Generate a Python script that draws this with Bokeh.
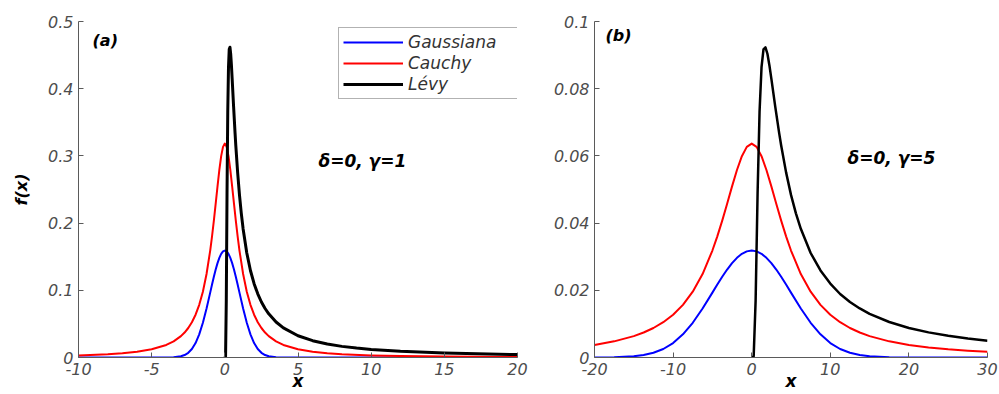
from bokeh.plotting import figure
from bokeh.layouts import row
from bokeh.models import (Label, Legend, LegendItem, CustomJSTickFormatter,
                          FixedTicker, Range1d)
from bokeh.embed import file_html
from bokeh.resources import INLINE

# ---------------- panel (a): delta = 0, gamma = 1 ----------------
xa = [-10, -8, -7, -6, -5, -4, -3.5, -3, -2.75, -2.5, -2.25, -2, -1.75, -1.5, -1.25,
      -1, -0.875, -0.75, -0.625, -0.5, -0.375, -0.25, -0.125,
      0,
      0.125, 0.25, 0.375, 0.5, 0.625, 0.75, 0.875, 1,
      1.25, 1.5, 1.75, 2, 2.25, 2.5, 2.75, 3,
      3.5, 4, 5, 6, 7, 8, 10, 12, 15, 20]
gauss_a = [0, 0, 0, 0, 0, 0.00005, 0.00035, 0.00177, 0.00363, 0.00699, 0.01266,
           0.02154, 0.03442, 0.05167, 0.07286, 0.09653, 0.10853, 0.12013, 0.13091,
           0.14045, 0.14834, 0.15425, 0.15791,
           0.15915,
           0.15791, 0.15425, 0.14834, 0.14045, 0.13091, 0.12013, 0.10853, 0.09653,
           0.07286, 0.05167, 0.03442, 0.02154, 0.01266, 0.00699, 0.00363, 0.00177,
           0.00035, 0.00005, 0, 0, 0, 0, 0, 0, 0, 0]
cauchy_a = [0.00315, 0.00490, 0.00637, 0.00860, 0.01224, 0.01872, 0.02402, 0.03183,
            0.03718, 0.04390, 0.05251, 0.06366, 0.07835, 0.09794, 0.12422, 0.15915,
            0.18028, 0.20372, 0.22890, 0.25465, 0.27907, 0.29959, 0.31341,
            0.31831,
            0.31341, 0.29959, 0.27907, 0.25465, 0.22890, 0.20372, 0.18028, 0.15915,
            0.12422, 0.09794, 0.07835, 0.06366, 0.05251, 0.04390, 0.03718, 0.03183,
            0.02402, 0.01872, 0.01224, 0.00860, 0.00637, 0.00490, 0.00315, 0.00220,
            0.00141, 0.00079]
levy_xa = [0, 0.05, 0.1, 0.15, 0.2, 0.25, 0.3, 0.35, 0.4, 0.45, 0.5, 0.6, 0.7, 0.75,
           0.875, 1, 1.125, 1.25, 1.5, 1.75, 2, 2.25, 2.5, 2.75, 3, 3.5, 4, 5, 6, 7,
           8, 9, 10, 12, 15, 20]
levy_a = [0, 0.0016, 0.0850, 0.2450, 0.3661, 0.4319, 0.4586, 0.4617, 0.4518, 0.4351,
          0.4151, 0.3730, 0.3335, 0.3153, 0.2753, 0.2420, 0.2144, 0.1913, 0.1556,
          0.1295, 0.1098, 0.0947, 0.0826, 0.0729, 0.0650, 0.0528, 0.0440, 0.0323,
          0.0250, 0.0201, 0.01656, 0.0140, 0.0120, 0.00921, 0.00664, 0.00435]

# ---------------- panel (b): delta = 0, gamma = 5 ----------------
xb = [-20, -17.5, -15, -13.75, -12.5, -11.25, -10, -8.75, -7.5, -6.25, -5, -4.375,
      -3.75, -3.125, -2.5, -1.875, -1.25, -0.625,
      0,
      0.625, 1.25, 1.875, 2.5, 3.125, 3.75, 4.375, 5,
      6.25, 7.5, 8.75, 10, 11.25, 12.5, 13.75, 15,
      17.5, 20, 22.5, 25, 27.5, 30]
gauss_b = [0.0000107, 0.0000696, 0.000354, 0.000726, 0.001399, 0.002532, 0.004308,
           0.006884, 0.010334, 0.014573, 0.019306, 0.021706, 0.024027, 0.026183,
           0.028091, 0.029669, 0.030850, 0.031582,
           0.031831,
           0.031582, 0.030850, 0.029669, 0.028091, 0.026183, 0.024027, 0.021706,
           0.019306, 0.014573, 0.010334, 0.006884, 0.004308, 0.002532, 0.001399,
           0.000726, 0.000354, 0.0000696, 0.0000107, 0, 0, 0, 0]
cauchy_b = [0.003745, 0.004805, 0.006366, 0.007435, 0.008781, 0.010501, 0.012732,
            0.015670, 0.019589, 0.024844, 0.031831, 0.036056, 0.040744, 0.045779,
            0.050930, 0.055813, 0.059918, 0.062683,
            0.063662,
            0.062683, 0.059918, 0.055813, 0.050930, 0.045779, 0.040744, 0.036056,
            0.031831, 0.024844, 0.019589, 0.015670, 0.012732, 0.010501, 0.008781,
            0.007435, 0.006366, 0.004805, 0.003745, 0.002996, 0.002449, 0.002037,
            0.001721]
levy_xb = [0, 0.25, 0.5, 0.75, 1, 1.25, 1.5, 1.75, 2, 2.25, 2.5, 3, 3.5, 3.75, 4.375,
           5, 5.625, 6.25, 7.5, 8.75, 10, 11.25, 12.5, 13.75, 15, 17.5, 20, 22.5, 25,
           27.5, 30]
levy_b = [0, 0.00032, 0.0170, 0.0490, 0.0732, 0.0864, 0.0917, 0.0923, 0.0904, 0.0870,
          0.0830, 0.0746, 0.0667, 0.0631, 0.0551, 0.0484, 0.0429, 0.0383, 0.0311,
          0.0259, 0.0220, 0.0189, 0.0165, 0.0146, 0.0130, 0.01056, 0.0088, 0.00748,
          0.00646, 0.00565, 0.0050]

xticks_a = [-10, -5, 0, 5, 10, 15, 20]
yticks_a = [0, 0.1, 0.2, 0.3, 0.4, 0.5]
xticks_b = [-20, -10, 0, 10, 20, 30]
yticks_b = [0, 0.02, 0.04, 0.06, 0.08, 0.1]

series_names = ["Gaussiana", "Cauchy", "Lévy"]
series_colors = ["#0000ff", "#ff0000", "#000000"]

FONT = "DejaVu Sans"
AXIS_COLOR = "#5a5a5a"
TICK_TEXT = "#4d4d4d"


def make_panel(width, xr, yr, border_left, border_right):
    p = figure(width=width, height=394, x_range=Range1d(*xr), y_range=Range1d(*yr),
               output_backend="svg", toolbar_location=None,
               min_border_left=border_left, min_border_right=border_right,
               min_border_top=21, min_border_bottom=37)
    p.outline_line_color = None
    p.xgrid.visible = False
    p.ygrid.visible = False
    p.background_fill_color = "white"
    p.border_fill_color = "white"
    return p


def style_axes(p, xticks, yticks):
    fmt = "return String(parseFloat(tick.toFixed(4)));"
    for ax in (p.xaxis[0], p.yaxis[0]):
        ax.axis_line_color = AXIS_COLOR
        ax.axis_line_width = 1
        ax.major_tick_line_color = AXIS_COLOR
        ax.major_tick_in = 5
        ax.major_tick_out = 0
        ax.minor_tick_line_color = None
        ax.major_label_text_font = FONT
        ax.major_label_text_font_size = "16px"
        ax.major_label_text_font_style = "italic"
        ax.major_label_text_color = TICK_TEXT
        ax.major_label_standoff = 5
        ax.formatter = CustomJSTickFormatter(code=fmt)
        ax.axis_label_text_font = FONT
        ax.axis_label_text_font_style = "bold italic"
        ax.axis_label_text_color = "black"
    p.xaxis[0].ticker = FixedTicker(ticks=xticks)
    p.yaxis[0].ticker = FixedTicker(ticks=yticks)
    # the x label sits tight under the tick labels, right at the bottom edge
    p.xaxis[0].axis_label = "x"
    p.xaxis[0].axis_label_text_font_size = "17px"
    p.xaxis[0].axis_label_standoff = -7


def text_label(p, x, y, text, size="16px"):
    p.add_layout(Label(x=x, y=y, text=text, text_font=FONT,
                       text_font_style="bold italic", text_font_size=size,
                       text_color="black", text_align="left",
                       text_baseline="middle"))


# panel (a)
pa = make_panel(550, (-10, 20), (0, 0.5), 78, 33)
style_axes(pa, xticks_a, yticks_a)
pa.yaxis[0].axis_label = "f(x)"
pa.yaxis[0].axis_label_text_font_size = "16px"
pa.yaxis[0].axis_label_standoff = 14

renderers_a = [
    pa.line(xa, gauss_a, line_color=series_colors[0], line_width=2, line_join="round"),
    pa.line(xa, cauchy_a, line_color=series_colors[1], line_width=2, line_join="round"),
    pa.line(levy_xa, levy_a, line_color=series_colors[2], line_width=3, line_join="round"),
]

legend = Legend(
    items=[LegendItem(label=n, renderers=[r]) for n, r in zip(series_names, renderers_a)],
    location=(260, 258), margin=0, padding=4, spacing=1,
    glyph_width=60, glyph_height=20, label_height=20, label_width=106,
    label_standoff=5, border_line_color="#666666", border_line_width=1,
    background_fill_color="white", background_fill_alpha=1.0,
    label_text_font=FONT, label_text_font_size="17px",
    label_text_font_style="italic", label_text_color="#333333",
)
pa.add_layout(legend)

text_label(pa, -9.04, 0.472, "(a)")
text_label(pa, 6.4, 0.293, "δ=0, γ=1", size="17px")

# panel (b)
pb = make_panel(449, (-20, 30), (0, 0.1), 44, 12)
style_axes(pb, xticks_b, yticks_b)

pb.line(xb, gauss_b, line_color=series_colors[0], line_width=2, line_join="round")
pb.line(xb, cauchy_b, line_color=series_colors[1], line_width=2, line_join="round")
pb.line(levy_xb, levy_b, line_color=series_colors[2], line_width=2.5, line_join="round")

text_label(pb, -18.6, 0.0958, "(b)")
text_label(pb, 12.19, 0.0595, "δ=0, γ=5", size="17px")

layout = row(pa, pb)

open("out.html", "w").write(file_html(layout, INLINE))
